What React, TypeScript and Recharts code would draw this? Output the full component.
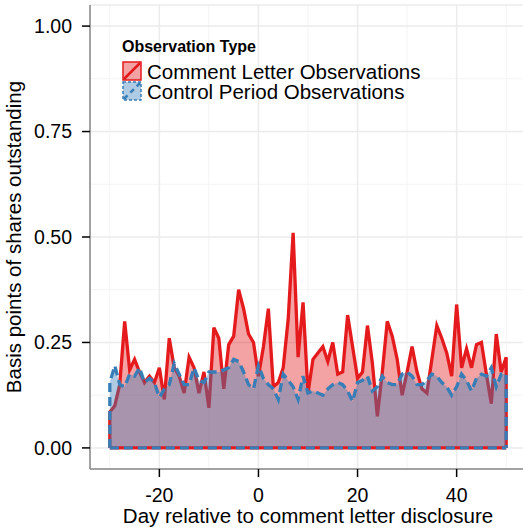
import {
  AreaChart,
  Area,
  XAxis,
  YAxis,
  CartesianGrid,
  ReferenceLine,
  Legend,
  Label,
} from "recharts";

const FONT = '"Liberation Sans", Arial, sans-serif';
const RED = "#E41A1C";
const BLUE = "#377EB8";

const days = [
  -30, -29, -28, -27, -26, -25, -24, -23, -22, -21, -20, -19, -18, -17, -16, -15, -14, -13, -12, -11,
  -10, -9, -8, -7, -6, -5, -4, -3, -2, -1, 0, 1, 2, 3, 4, 5, 6, 7, 8, 9, 10, 11, 12, 13, 14, 15, 16,
  17, 18, 19, 20, 21, 22, 23, 24, 25, 26, 27, 28, 29, 30, 31, 32, 33, 34, 35, 36, 37, 38, 39, 40,
  41, 42, 43, 44, 45, 46, 47, 48, 49, 50,
];

// basis points, comment letter window
const commentLetter = [
  0.085, 0.1, 0.15, 0.3, 0.185, 0.21, 0.18, 0.155, 0.17, 0.155, 0.19, 0.115, 0.26, 0.19, 0.17, 0.13,
  0.215, 0.19, 0.13, 0.18, 0.095, 0.285, 0.26, 0.14, 0.245, 0.265, 0.375, 0.33, 0.27, 0.25, 0.17,
  0.24, 0.33, 0.145, 0.155, 0.19, 0.305, 0.51, 0.215, 0.345, 0.13, 0.21, 0.225, 0.24, 0.205, 0.25,
  0.175, 0.18, 0.315, 0.24, 0.165, 0.18, 0.29, 0.2, 0.075, 0.18, 0.3, 0.265, 0.21, 0.125, 0.18,
  0.24, 0.18, 0.14, 0.13, 0.21, 0.29, 0.26, 0.225, 0.17, 0.34, 0.19, 0.235, 0.19, 0.245, 0.25,
  0.175, 0.105, 0.27, 0.18, 0.215,
];

// basis points, control period
const controlPeriod = [
  0.155, 0.195, 0.15, 0.145, 0.175, 0.17, 0.19, 0.155, 0.165, 0.155, 0.12, 0.14, 0.15, 0.2, 0.175,
  0.15, 0.15, 0.19, 0.16, 0.155, 0.18, 0.18, 0.18, 0.185, 0.19, 0.21, 0.205, 0.18, 0.15, 0.14,
  0.195, 0.165, 0.15, 0.14, 0.115, 0.175, 0.16, 0.145, 0.115, 0.17, 0.13, 0.135, 0.13, 0.125, 0.14,
  0.15, 0.155, 0.15, 0.135, 0.11, 0.155, 0.16, 0.17, 0.135, 0.145, 0.17, 0.155, 0.15, 0.15, 0.175,
  0.18, 0.17, 0.15, 0.15, 0.16, 0.175, 0.17, 0.155, 0.145, 0.125, 0.145, 0.175, 0.16, 0.135, 0.165,
  0.175, 0.17, 0.19, 0.145, 0.175, 0.175,
];

const xTicks = [-20, 0, 20, 40];
const yTicks = [0, 0.25, 0.5, 0.75, 1];
const xMinor = [-30, -10, 10, 30, 50];
const yMinor = [0.125, 0.375, 0.625, 0.875];

const series = [
  { key: "cl", name: "Comment Letter Observations", color: RED, dashed: false },
  { key: "ctl", name: "Control Period Observations", color: BLUE, dashed: true },
];

const firstDay = days[0];
const lastDay = days[days.length - 1];

// close the polygon at both ends like geom_area does
const rows = [
  { day: firstDay, cl: 0, ctl: 0 },
  ...days.map((d, i) => ({ day: d, cl: commentLetter[i], ctl: controlPeriod[i] })),
  { day: lastDay, cl: 0, ctl: 0 },
];

const DASH = "9 5";
const LW = 3.3;

function LegendBox() {
  return (
    <div style={{ fontFamily: FONT, color: "#000" }}>
      <div style={{ fontWeight: "bold", fontSize: 16, lineHeight: "18px", height: 18, marginBottom: 5 }}>
        Observation Type
      </div>
      {series.map((s) => (
        <div key={s.key} style={{ display: "flex", alignItems: "center", height: 20 }}>
          <svg width={20} height={20} style={{ display: "block" }}>
            <rect
              x={1}
              y={1}
              width={18}
              height={18}
              fill={s.color}
              fillOpacity={0.4}
              stroke={s.color}
              strokeWidth={1.5}
              strokeDasharray={s.dashed ? "3 2" : undefined}
            />
            <line
              x1={2}
              y1={18}
              x2={18}
              y2={2}
              stroke={s.color}
              strokeWidth={2.5}
              strokeDasharray={s.dashed ? "5 4" : undefined}
            />
          </svg>
          <span
            style={{
              display: "inline-block",
              marginLeft: 5,
              fontSize: 20.5,
              lineHeight: "20px",
              height: 20,
              position: "relative",
              top: 1,
              whiteSpace: "nowrap",
            }}
          >
            {s.name}
          </span>
        </div>
      ))}
    </div>
  );
}

const XTitle = (props: any) => {
  const vb = props.viewBox || { x: 90, y: 469, width: 436 };
  return (
    <text x={vb.x + vb.width / 2} y={vb.y + 54} textAnchor="middle" fontSize={20.5} fontFamily={FONT} fill="#000">
      Day relative to comment letter disclosure
    </text>
  );
};

const YTitle = (props: any) => {
  const vb = props.viewBox || { x: 0, y: 5, height: 464 };
  const cx = vb.x + 21;
  const cy = vb.y + vb.height / 2;
  return (
    <text
      x={cx}
      y={cy}
      transform={`rotate(-90 ${cx} ${cy})`}
      textAnchor="middle"
      fontSize={20.5}
      fontFamily={FONT}
      fill="#000"
    >
      Basis points of shares outstanding
    </text>
  );
};

export default function App() {
  const tickStyle = { fill: "#000", fontSize: 19.5, fontFamily: FONT };
  return (
    <div style={{ position: "absolute", left: 0, top: 0, width: 523, height: 531, overflow: "hidden", background: "#fff" }}>
      <AreaChart width={530} height={531} data={rows} margin={{ top: 5, right: 4, bottom: 0, left: 0 }}>
        <CartesianGrid horizontalValues={yMinor} verticalValues={xMinor} stroke="#F4F4F4" strokeWidth={1} />
        <CartesianGrid stroke="#EBEBEB" strokeWidth={1.5} />
        <XAxis
          dataKey="day"
          type="number"
          domain={[-34, 54]}
          ticks={xTicks}
          allowDataOverflow
          height={62}
          tickSize={8}
          tickMargin={11}
          tick={tickStyle}
          tickLine={{ stroke: "#000", strokeWidth: 1.5 }}
          axisLine={{ stroke: "#888", strokeWidth: 1.5 }}
        >
          <Label content={XTitle} />
        </XAxis>
        <XAxis
          xAxisId="top"
          orientation="top"
          type="number"
          domain={[-34, 54]}
          height={0}
          tick={false}
          tickLine={false}
          axisLine={{ stroke: "#888", strokeWidth: 1.2 }}
        />
        <YAxis
          type="number"
          domain={[-0.05, 1.05]}
          ticks={yTicks}
          allowDataOverflow
          width={90}
          tickSize={8}
          tickMargin={10}
          tick={tickStyle}
          tickFormatter={(v: number) => v.toFixed(2)}
          tickLine={{ stroke: "#000", strokeWidth: 1.5 }}
          axisLine={{ stroke: "#888", strokeWidth: 1.5 }}
        >
          <Label content={YTitle} />
        </YAxis>
        <Area
          type="linear"
          dataKey="cl"
          name={series[0].name}
          baseValue={0}
          stroke={RED}
          strokeWidth={LW}
          fill={RED}
          fillOpacity={0.4}
          dot={false}
          activeDot={false}
          isAnimationActive={false}
        />
        <Area
          type="linear"
          dataKey="ctl"
          name={series[1].name}
          baseValue={0}
          stroke={BLUE}
          strokeWidth={LW}
          strokeDasharray={DASH}
          fill={BLUE}
          fillOpacity={0.4}
          dot={false}
          activeDot={false}
          isAnimationActive={false}
        />
        <ReferenceLine
          segment={[
            { x: firstDay, y: 0 },
            { x: lastDay, y: 0 },
          ]}
          stroke={RED}
          strokeWidth={LW}
        />
        <ReferenceLine
          segment={[
            { x: firstDay, y: 0 },
            { x: lastDay, y: 0 },
          ]}
          stroke={BLUE}
          strokeWidth={LW}
          strokeDasharray={DASH}
        />
        <Legend
          layout="vertical"
          align="center"
          verticalAlign="middle"
          content={<LegendBox />}
          wrapperStyle={{ left: 122, top: 38, width: 320, height: 62 }}
        />
      </AreaChart>
    </div>
  );
}
